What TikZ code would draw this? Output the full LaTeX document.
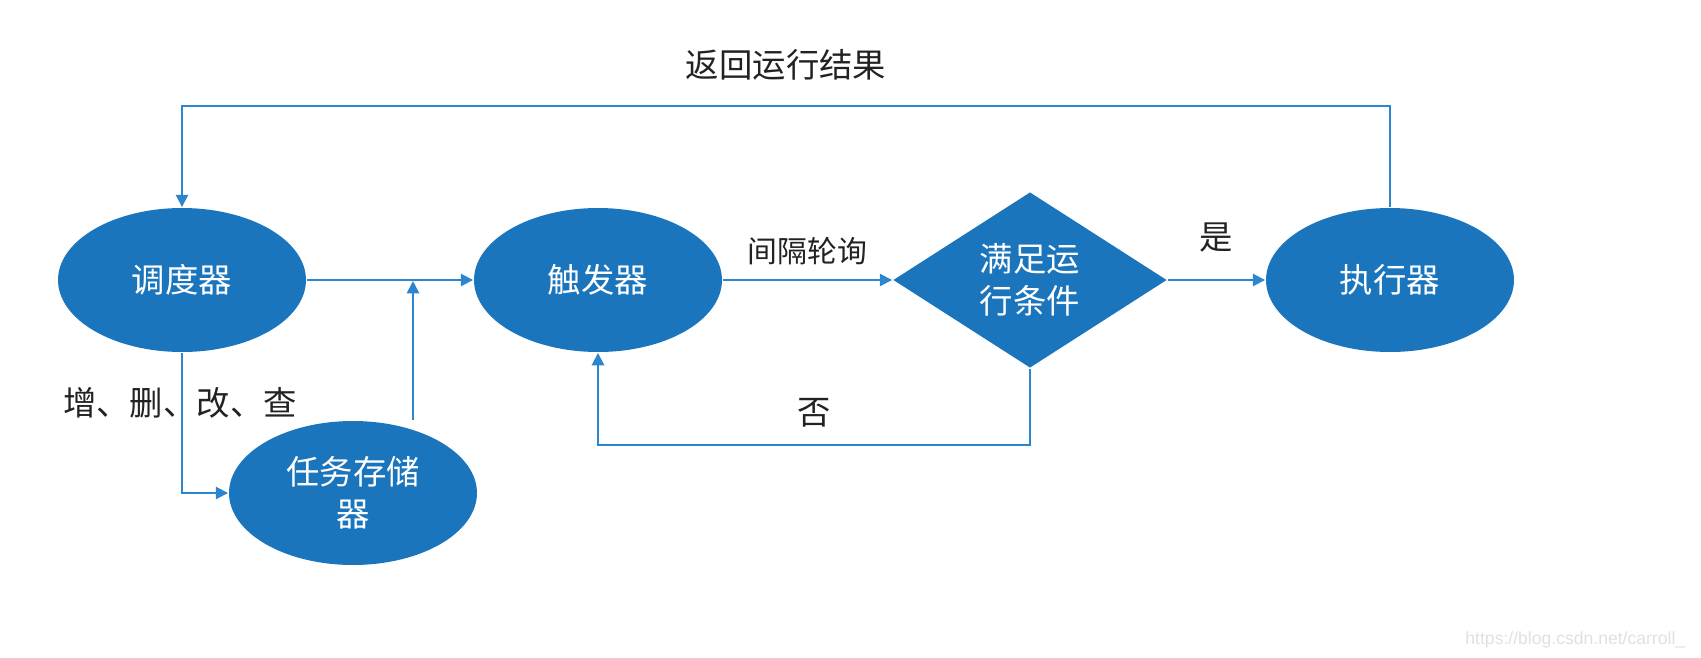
\documentclass[tikz,border=0pt]{standalone}
\usepackage{fontspec}
\setmainfont{Noto Sans CJK SC}
\setsansfont{Liberation Sans}
\usepackage{tikz}
\usetikzlibrary{shapes.geometric}
\usetikzlibrary{arrows.meta}
\definecolor{nodeblue}{HTML}{1A75BC}
\definecolor{lineblue}{HTML}{2C86CF}
\definecolor{labelgray}{HTML}{222222}

\begin{document}
\begin{tikzpicture}[x=0.02cm,y=-0.02cm,line width=1.1pt]
			\tikzstyle{every node}=[text=labelgray,font=\fontsize{19}{24}\selectfont]
			\tikzstyle{blob}=[ellipse,fill=nodeblue,draw=none,minimum width=4.96cm,minimum height=2.88cm,inner sep=0pt,text=white,align=center]
			\tikzstyle{test}=[diamond,fill=nodeblue,draw=none,minimum width=5.48cm,minimum height=3.52cm,inner sep=0pt,text=white,align=center]
			\tikzstyle{flow}=[draw=lineblue,-{Triangle[length=7pt,width=7pt]}]
			
			\useasboundingbox (0,0) rectangle (1701,657);
			
			\node[blob] (sched)   at (182,280)  {调度器};
			\node[blob] (trig)    at (598,280)  {触发器};
			\node[blob] (store)   at (353,493)  {任务存储\\器};
			\node[test] (check)   at (1030,280) {满足运\\行条件};
			\node[blob] (exec)    at (1390,280) {执行器};
			
			\coordinate (join) at (413,280);
			
			\draw[flow] (sched.east) -- (trig.west);
			\draw[flow] (store.north -| join) -- ([yshift=-0.6pt]join);
			\draw[flow] (sched.south) |- (store.west);
			\draw[flow] (trig.east) -- node[above=5pt,font=\fontsize{17}{20}\selectfont] {间隔轮询} (check.west);
			\draw[flow] (check.south) -- ++(0,76) -| node[pos=0.25,above=6pt] {否} (trig.south);
			\draw[flow] (check.east) -- node[above=12pt] {是} (exec.west);
			\draw[flow] (exec.north) -- ++(0,-101) -| node[pos=0.25,above=11pt] {返回运行结果} (sched.north);
			
			\node (ops) at (180,403) {增、删、改、查};
			\node[text=black!12,font=\sffamily\fontsize{10}{12}\selectfont,anchor=east] (mark) at (1692,640) {https://blog.csdn.net/carroll\_};
\end{tikzpicture}
\end{document}
